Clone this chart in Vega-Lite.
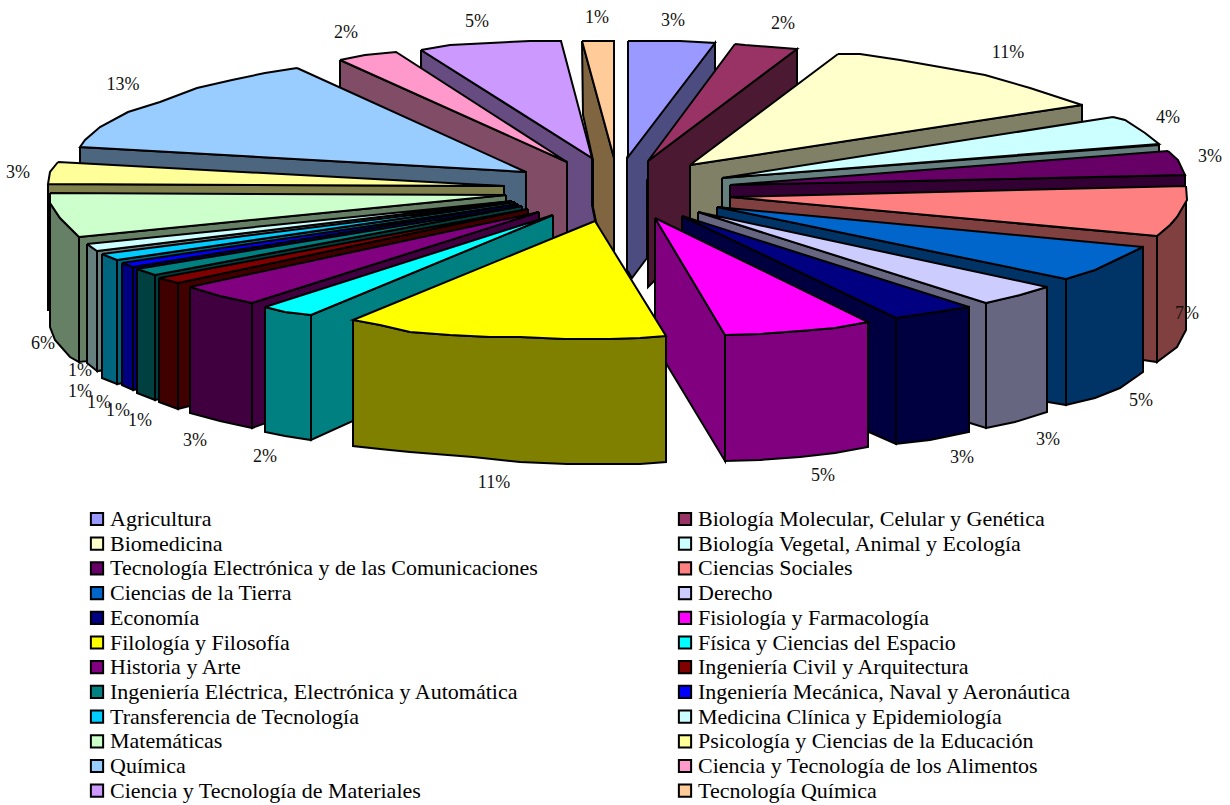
{"$schema":"https://vega.github.io/schema/vega-lite/v6.json","width":1230,"height":805,"padding":0,"autosize":{"type":"none"},"background":"white","config":{"view":{"stroke":null},"font":"Liberation Serif"},
"datasets":{"sides":[
{"sector":"Tecnología Química","face":1,"seq":1,"x":582,"y":41},{"sector":"Tecnología Química","face":1,"seq":2,"x":614,"y":158},{"sector":"Tecnología Química","face":1,"seq":3,"x":614,"y":265},{"sector":"Tecnología Química","face":1,"seq":4,"x":596,"y":222},{"sector":"Tecnología Química","face":1,"seq":5,"x":593,"y":207},{"sector":"Tecnología Química","face":1,"seq":6,"x":593,"y":160},{"sector":"Tecnología Química","face":1,"seq":7,"x":583,"y":115},{"sector":"Tecnología Química","face":1,"seq":8,"x":582,"y":41},
{"sector":"Agricultura","face":1,"seq":1,"x":627,"y":157},{"sector":"Agricultura","face":1,"seq":2,"x":715,"y":43},{"sector":"Agricultura","face":1,"seq":3,"x":715,"y":100},{"sector":"Agricultura","face":1,"seq":4,"x":647,"y":180},{"sector":"Agricultura","face":1,"seq":5,"x":647,"y":258},{"sector":"Agricultura","face":1,"seq":6,"x":632,"y":278},{"sector":"Agricultura","face":1,"seq":7,"x":627,"y":270},{"sector":"Agricultura","face":1,"seq":8,"x":627,"y":157},
{"sector":"Ciencia y Tecnología de Materiales","face":1,"seq":1,"x":421,"y":50},{"sector":"Ciencia y Tecnología de Materiales","face":1,"seq":2,"x":592,"y":158},{"sector":"Ciencia y Tecnología de Materiales","face":1,"seq":3,"x":592,"y":205},{"sector":"Ciencia y Tecnología de Materiales","face":1,"seq":4,"x":596,"y":225},{"sector":"Ciencia y Tecnología de Materiales","face":1,"seq":5,"x":560,"y":260},{"sector":"Ciencia y Tecnología de Materiales","face":1,"seq":6,"x":421,"y":170},{"sector":"Ciencia y Tecnología de Materiales","face":1,"seq":7,"x":421,"y":50},
{"sector":"Biología Molecular, Celular y Genética","face":1,"seq":1,"x":648,"y":161},{"sector":"Biología Molecular, Celular y Genética","face":1,"seq":2,"x":797,"y":49},{"sector":"Biología Molecular, Celular y Genética","face":1,"seq":3,"x":797,"y":120},{"sector":"Biología Molecular, Celular y Genética","face":1,"seq":4,"x":660,"y":275},{"sector":"Biología Molecular, Celular y Genética","face":1,"seq":5,"x":648,"y":287},{"sector":"Biología Molecular, Celular y Genética","face":1,"seq":6,"x":648,"y":161},
{"sector":"Ciencia y Tecnología de los Alimentos","face":1,"seq":1,"x":340,"y":60},{"sector":"Ciencia y Tecnología de los Alimentos","face":1,"seq":2,"x":567,"y":162},{"sector":"Ciencia y Tecnología de los Alimentos","face":1,"seq":3,"x":567,"y":270},{"sector":"Ciencia y Tecnología de los Alimentos","face":1,"seq":4,"x":340,"y":170},{"sector":"Ciencia y Tecnología de los Alimentos","face":1,"seq":5,"x":340,"y":60},
{"sector":"Biomedicina","face":1,"seq":1,"x":690,"y":165},{"sector":"Biomedicina","face":1,"seq":2,"x":1082,"y":105},{"sector":"Biomedicina","face":1,"seq":3,"x":1082,"y":200},{"sector":"Biomedicina","face":1,"seq":4,"x":690,"y":300},{"sector":"Biomedicina","face":1,"seq":5,"x":690,"y":165},
{"sector":"Química","face":1,"seq":1,"x":80,"y":147},{"sector":"Química","face":1,"seq":2,"x":526,"y":172},{"sector":"Química","face":1,"seq":3,"x":526,"y":290},{"sector":"Química","face":1,"seq":4,"x":80,"y":265},{"sector":"Química","face":1,"seq":5,"x":80,"y":147},
{"sector":"Biología Vegetal, Animal y Ecología","face":1,"seq":1,"x":722,"y":178},{"sector":"Biología Vegetal, Animal y Ecología","face":1,"seq":2,"x":1159,"y":145},{"sector":"Biología Vegetal, Animal y Ecología","face":1,"seq":3,"x":1159,"y":200},{"sector":"Biología Vegetal, Animal y Ecología","face":1,"seq":4,"x":722,"y":240},{"sector":"Biología Vegetal, Animal y Ecología","face":1,"seq":5,"x":722,"y":178},
{"sector":"Psicología y Ciencias de la Educación","face":1,"seq":1,"x":48,"y":184},{"sector":"Psicología y Ciencias de la Educación","face":1,"seq":2,"x":504,"y":186},{"sector":"Psicología y Ciencias de la Educación","face":1,"seq":3,"x":504,"y":300},{"sector":"Psicología y Ciencias de la Educación","face":1,"seq":4,"x":48,"y":310},{"sector":"Psicología y Ciencias de la Educación","face":1,"seq":5,"x":48,"y":184},
{"sector":"Tecnología Electrónica y de las Comunicaciones","face":1,"seq":1,"x":730,"y":185},{"sector":"Tecnología Electrónica y de las Comunicaciones","face":1,"seq":2,"x":1185,"y":175},{"sector":"Tecnología Electrónica y de las Comunicaciones","face":1,"seq":3,"x":1185,"y":220},{"sector":"Tecnología Electrónica y de las Comunicaciones","face":1,"seq":4,"x":730,"y":230},{"sector":"Tecnología Electrónica y de las Comunicaciones","face":1,"seq":5,"x":730,"y":185},
{"sector":"Matemáticas","face":1,"seq":1,"x":506,"y":195},{"sector":"Matemáticas","face":1,"seq":2,"x":79,"y":237},{"sector":"Matemáticas","face":1,"seq":3,"x":79,"y":362},{"sector":"Matemáticas","face":1,"seq":4,"x":506,"y":320},{"sector":"Matemáticas","face":1,"seq":5,"x":506,"y":195},
{"sector":"Matemáticas","face":2,"seq":1,"x":50,"y":203},{"sector":"Matemáticas","face":2,"seq":2,"x":60,"y":218},{"sector":"Matemáticas","face":2,"seq":3,"x":70,"y":228},{"sector":"Matemáticas","face":2,"seq":4,"x":79,"y":237},{"sector":"Matemáticas","face":2,"seq":5,"x":79,"y":362},{"sector":"Matemáticas","face":2,"seq":6,"x":70,"y":357},{"sector":"Matemáticas","face":2,"seq":7,"x":55,"y":340},{"sector":"Matemáticas","face":2,"seq":8,"x":50,"y":327},{"sector":"Matemáticas","face":2,"seq":9,"x":50,"y":203},
{"sector":"Ciencias Sociales","face":1,"seq":1,"x":730,"y":197},{"sector":"Ciencias Sociales","face":1,"seq":2,"x":1157,"y":236},{"sector":"Ciencias Sociales","face":1,"seq":3,"x":1157,"y":362},{"sector":"Ciencias Sociales","face":1,"seq":4,"x":1143,"y":360},{"sector":"Ciencias Sociales","face":1,"seq":5,"x":730,"y":320},{"sector":"Ciencias Sociales","face":1,"seq":6,"x":730,"y":197},
{"sector":"Ciencias Sociales","face":2,"seq":1,"x":1157,"y":236},{"sector":"Ciencias Sociales","face":2,"seq":2,"x":1170,"y":225},{"sector":"Ciencias Sociales","face":2,"seq":3,"x":1177,"y":217},{"sector":"Ciencias Sociales","face":2,"seq":4,"x":1186,"y":200},{"sector":"Ciencias Sociales","face":2,"seq":5,"x":1186,"y":330},{"sector":"Ciencias Sociales","face":2,"seq":6,"x":1177,"y":347},{"sector":"Ciencias Sociales","face":2,"seq":7,"x":1157,"y":362},{"sector":"Ciencias Sociales","face":2,"seq":8,"x":1157,"y":236},
{"sector":"Medicina Clínica y Epidemiología","face":1,"seq":1,"x":512,"y":201},{"sector":"Medicina Clínica y Epidemiología","face":1,"seq":2,"x":97,"y":251},{"sector":"Medicina Clínica y Epidemiología","face":1,"seq":3,"x":97,"y":371},{"sector":"Medicina Clínica y Epidemiología","face":1,"seq":4,"x":512,"y":320},{"sector":"Medicina Clínica y Epidemiología","face":1,"seq":5,"x":512,"y":201},
{"sector":"Medicina Clínica y Epidemiología","face":2,"seq":1,"x":87,"y":244},{"sector":"Medicina Clínica y Epidemiología","face":2,"seq":2,"x":97,"y":251},{"sector":"Medicina Clínica y Epidemiología","face":2,"seq":3,"x":97,"y":371},{"sector":"Medicina Clínica y Epidemiología","face":2,"seq":4,"x":87,"y":363},{"sector":"Medicina Clínica y Epidemiología","face":2,"seq":5,"x":87,"y":244},
{"sector":"Ciencias de la Tierra","face":1,"seq":1,"x":717,"y":207},{"sector":"Ciencias de la Tierra","face":1,"seq":2,"x":1066,"y":279},{"sector":"Ciencias de la Tierra","face":1,"seq":3,"x":1066,"y":405},{"sector":"Ciencias de la Tierra","face":1,"seq":4,"x":1048,"y":402},{"sector":"Ciencias de la Tierra","face":1,"seq":5,"x":717,"y":320},{"sector":"Ciencias de la Tierra","face":1,"seq":6,"x":717,"y":207},
{"sector":"Ciencias de la Tierra","face":2,"seq":1,"x":1066,"y":279},{"sector":"Ciencias de la Tierra","face":2,"seq":2,"x":1095,"y":270},{"sector":"Ciencias de la Tierra","face":2,"seq":3,"x":1120,"y":258},{"sector":"Ciencias de la Tierra","face":2,"seq":4,"x":1143,"y":247},{"sector":"Ciencias de la Tierra","face":2,"seq":5,"x":1143,"y":372},{"sector":"Ciencias de la Tierra","face":2,"seq":6,"x":1120,"y":388},{"sector":"Ciencias de la Tierra","face":2,"seq":7,"x":1095,"y":398},{"sector":"Ciencias de la Tierra","face":2,"seq":8,"x":1066,"y":405},{"sector":"Ciencias de la Tierra","face":2,"seq":9,"x":1066,"y":279},
{"sector":"Transferencia de Tecnología","face":1,"seq":1,"x":515,"y":202},{"sector":"Transferencia de Tecnología","face":1,"seq":2,"x":117,"y":260},{"sector":"Transferencia de Tecnología","face":1,"seq":3,"x":117,"y":384},{"sector":"Transferencia de Tecnología","face":1,"seq":4,"x":515,"y":320},{"sector":"Transferencia de Tecnología","face":1,"seq":5,"x":515,"y":202},
{"sector":"Transferencia de Tecnología","face":2,"seq":1,"x":102,"y":254},{"sector":"Transferencia de Tecnología","face":2,"seq":2,"x":117,"y":260},{"sector":"Transferencia de Tecnología","face":2,"seq":3,"x":117,"y":384},{"sector":"Transferencia de Tecnología","face":2,"seq":4,"x":102,"y":378},{"sector":"Transferencia de Tecnología","face":2,"seq":5,"x":102,"y":254},
{"sector":"Derecho","face":1,"seq":1,"x":698,"y":212},{"sector":"Derecho","face":1,"seq":2,"x":986,"y":303},{"sector":"Derecho","face":1,"seq":3,"x":986,"y":428},{"sector":"Derecho","face":1,"seq":4,"x":970,"y":423},{"sector":"Derecho","face":1,"seq":5,"x":698,"y":320},{"sector":"Derecho","face":1,"seq":6,"x":698,"y":212},
{"sector":"Derecho","face":2,"seq":1,"x":986,"y":303},{"sector":"Derecho","face":2,"seq":2,"x":1020,"y":295},{"sector":"Derecho","face":2,"seq":3,"x":1047,"y":287},{"sector":"Derecho","face":2,"seq":4,"x":1047,"y":412},{"sector":"Derecho","face":2,"seq":5,"x":1015,"y":422},{"sector":"Derecho","face":2,"seq":6,"x":986,"y":428},{"sector":"Derecho","face":2,"seq":7,"x":986,"y":303},
{"sector":"Ingeniería Mecánica, Naval y Aeronáutica","face":1,"seq":1,"x":518,"y":204},{"sector":"Ingeniería Mecánica, Naval y Aeronáutica","face":1,"seq":2,"x":133,"y":267},{"sector":"Ingeniería Mecánica, Naval y Aeronáutica","face":1,"seq":3,"x":133,"y":390},{"sector":"Ingeniería Mecánica, Naval y Aeronáutica","face":1,"seq":4,"x":518,"y":320},{"sector":"Ingeniería Mecánica, Naval y Aeronáutica","face":1,"seq":5,"x":518,"y":204},
{"sector":"Ingeniería Mecánica, Naval y Aeronáutica","face":2,"seq":1,"x":122,"y":263},{"sector":"Ingeniería Mecánica, Naval y Aeronáutica","face":2,"seq":2,"x":133,"y":267},{"sector":"Ingeniería Mecánica, Naval y Aeronáutica","face":2,"seq":3,"x":133,"y":390},{"sector":"Ingeniería Mecánica, Naval y Aeronáutica","face":2,"seq":4,"x":122,"y":385},{"sector":"Ingeniería Mecánica, Naval y Aeronáutica","face":2,"seq":5,"x":122,"y":263},
{"sector":"Economía","face":1,"seq":1,"x":682,"y":216},{"sector":"Economía","face":1,"seq":2,"x":896,"y":318},{"sector":"Economía","face":1,"seq":3,"x":896,"y":444},{"sector":"Economía","face":1,"seq":4,"x":869,"y":432},{"sector":"Economía","face":1,"seq":5,"x":682,"y":335},{"sector":"Economía","face":1,"seq":6,"x":682,"y":216},
{"sector":"Economía","face":2,"seq":1,"x":896,"y":318},{"sector":"Economía","face":2,"seq":2,"x":930,"y":313},{"sector":"Economía","face":2,"seq":3,"x":969,"y":307},{"sector":"Economía","face":2,"seq":4,"x":969,"y":432},{"sector":"Economía","face":2,"seq":5,"x":930,"y":440},{"sector":"Economía","face":2,"seq":6,"x":896,"y":444},{"sector":"Economía","face":2,"seq":7,"x":896,"y":318},
{"sector":"Ingeniería Eléctrica, Electrónica y Automática","face":1,"seq":1,"x":522,"y":206},{"sector":"Ingeniería Eléctrica, Electrónica y Automática","face":1,"seq":2,"x":155,"y":275},{"sector":"Ingeniería Eléctrica, Electrónica y Automática","face":1,"seq":3,"x":155,"y":400},{"sector":"Ingeniería Eléctrica, Electrónica y Automática","face":1,"seq":4,"x":522,"y":320},{"sector":"Ingeniería Eléctrica, Electrónica y Automática","face":1,"seq":5,"x":522,"y":206},
{"sector":"Ingeniería Eléctrica, Electrónica y Automática","face":2,"seq":1,"x":137,"y":269},{"sector":"Ingeniería Eléctrica, Electrónica y Automática","face":2,"seq":2,"x":155,"y":275},{"sector":"Ingeniería Eléctrica, Electrónica y Automática","face":2,"seq":3,"x":155,"y":400},{"sector":"Ingeniería Eléctrica, Electrónica y Automática","face":2,"seq":4,"x":137,"y":393},{"sector":"Ingeniería Eléctrica, Electrónica y Automática","face":2,"seq":5,"x":137,"y":269},
{"sector":"Ingeniería Civil y Arquitectura","face":1,"seq":1,"x":528,"y":209},{"sector":"Ingeniería Civil y Arquitectura","face":1,"seq":2,"x":178,"y":283},{"sector":"Ingeniería Civil y Arquitectura","face":1,"seq":3,"x":178,"y":409},{"sector":"Ingeniería Civil y Arquitectura","face":1,"seq":4,"x":528,"y":320},{"sector":"Ingeniería Civil y Arquitectura","face":1,"seq":5,"x":528,"y":209},
{"sector":"Ingeniería Civil y Arquitectura","face":2,"seq":1,"x":159,"y":278},{"sector":"Ingeniería Civil y Arquitectura","face":2,"seq":2,"x":178,"y":283},{"sector":"Ingeniería Civil y Arquitectura","face":2,"seq":3,"x":178,"y":409},{"sector":"Ingeniería Civil y Arquitectura","face":2,"seq":4,"x":159,"y":402},{"sector":"Ingeniería Civil y Arquitectura","face":2,"seq":5,"x":159,"y":278},
{"sector":"Fisiología y Farmacología","face":1,"seq":1,"x":655,"y":218},{"sector":"Fisiología y Farmacología","face":1,"seq":2,"x":725,"y":335},{"sector":"Fisiología y Farmacología","face":1,"seq":3,"x":725,"y":461},{"sector":"Fisiología y Farmacología","face":1,"seq":4,"x":655,"y":345},{"sector":"Fisiología y Farmacología","face":1,"seq":5,"x":655,"y":218},
{"sector":"Fisiología y Farmacología","face":2,"seq":1,"x":725,"y":335},{"sector":"Fisiología y Farmacología","face":2,"seq":2,"x":760,"y":334},{"sector":"Fisiología y Farmacología","face":2,"seq":3,"x":800,"y":331},{"sector":"Fisiología y Farmacología","face":2,"seq":4,"x":835,"y":328},{"sector":"Fisiología y Farmacología","face":2,"seq":5,"x":868,"y":322},{"sector":"Fisiología y Farmacología","face":2,"seq":6,"x":868,"y":447},{"sector":"Fisiología y Farmacología","face":2,"seq":7,"x":835,"y":453},{"sector":"Fisiología y Farmacología","face":2,"seq":8,"x":800,"y":457},{"sector":"Fisiología y Farmacología","face":2,"seq":9,"x":760,"y":460},{"sector":"Fisiología y Farmacología","face":2,"seq":10,"x":725,"y":461},{"sector":"Fisiología y Farmacología","face":2,"seq":11,"x":725,"y":335},
{"sector":"Historia y Arte","face":1,"seq":1,"x":539,"y":212},{"sector":"Historia y Arte","face":1,"seq":2,"x":252,"y":303},{"sector":"Historia y Arte","face":1,"seq":3,"x":252,"y":428},{"sector":"Historia y Arte","face":1,"seq":4,"x":539,"y":325},{"sector":"Historia y Arte","face":1,"seq":5,"x":539,"y":212},
{"sector":"Historia y Arte","face":2,"seq":1,"x":190,"y":287},{"sector":"Historia y Arte","face":2,"seq":2,"x":220,"y":296},{"sector":"Historia y Arte","face":2,"seq":3,"x":252,"y":303},{"sector":"Historia y Arte","face":2,"seq":4,"x":252,"y":428},{"sector":"Historia y Arte","face":2,"seq":5,"x":220,"y":421},{"sector":"Historia y Arte","face":2,"seq":6,"x":190,"y":413},{"sector":"Historia y Arte","face":2,"seq":7,"x":190,"y":287},
{"sector":"Física y Ciencias del Espacio","face":1,"seq":1,"x":553,"y":215},{"sector":"Física y Ciencias del Espacio","face":1,"seq":2,"x":311,"y":315},{"sector":"Física y Ciencias del Espacio","face":1,"seq":3,"x":311,"y":440},{"sector":"Física y Ciencias del Espacio","face":1,"seq":4,"x":553,"y":330},{"sector":"Física y Ciencias del Espacio","face":1,"seq":5,"x":553,"y":215},
{"sector":"Física y Ciencias del Espacio","face":2,"seq":1,"x":265,"y":307},{"sector":"Física y Ciencias del Espacio","face":2,"seq":2,"x":285,"y":312},{"sector":"Física y Ciencias del Espacio","face":2,"seq":3,"x":311,"y":315},{"sector":"Física y Ciencias del Espacio","face":2,"seq":4,"x":311,"y":440},{"sector":"Física y Ciencias del Espacio","face":2,"seq":5,"x":285,"y":436},{"sector":"Física y Ciencias del Espacio","face":2,"seq":6,"x":265,"y":432},{"sector":"Física y Ciencias del Espacio","face":2,"seq":7,"x":265,"y":307},
{"sector":"Filología y Filosofía","face":1,"seq":1,"x":353,"y":320},{"sector":"Filología y Filosofía","face":1,"seq":2,"x":380,"y":325},{"sector":"Filología y Filosofía","face":1,"seq":3,"x":410,"y":332},{"sector":"Filología y Filosofía","face":1,"seq":4,"x":450,"y":335},{"sector":"Filología y Filosofía","face":1,"seq":5,"x":490,"y":337},{"sector":"Filología y Filosofía","face":1,"seq":6,"x":520,"y":337},{"sector":"Filología y Filosofía","face":1,"seq":7,"x":565,"y":339},{"sector":"Filología y Filosofía","face":1,"seq":8,"x":610,"y":339},{"sector":"Filología y Filosofía","face":1,"seq":9,"x":640,"y":338},{"sector":"Filología y Filosofía","face":1,"seq":10,"x":666,"y":336},{"sector":"Filología y Filosofía","face":1,"seq":11,"x":666,"y":462},{"sector":"Filología y Filosofía","face":1,"seq":12,"x":640,"y":464},{"sector":"Filología y Filosofía","face":1,"seq":13,"x":567,"y":464},{"sector":"Filología y Filosofía","face":1,"seq":14,"x":520,"y":462},{"sector":"Filología y Filosofía","face":1,"seq":15,"x":473,"y":457},{"sector":"Filología y Filosofía","face":1,"seq":16,"x":410,"y":452},{"sector":"Filología y Filosofía","face":1,"seq":17,"x":380,"y":449},{"sector":"Filología y Filosofía","face":1,"seq":18,"x":353,"y":446},{"sector":"Filología y Filosofía","face":1,"seq":19,"x":353,"y":320}
],"tops":[
{"sector":"Tecnología Química","seq":1,"x":582,"y":41},{"sector":"Tecnología Química","seq":2,"x":614,"y":41},{"sector":"Tecnología Química","seq":3,"x":614,"y":158},{"sector":"Tecnología Química","seq":4,"x":582,"y":41},
{"sector":"Agricultura","seq":1,"x":628,"y":41},{"sector":"Agricultura","seq":2,"x":680,"y":41},{"sector":"Agricultura","seq":3,"x":715,"y":43},{"sector":"Agricultura","seq":4,"x":628,"y":157},{"sector":"Agricultura","seq":5,"x":628,"y":41},
{"sector":"Ciencia y Tecnología de Materiales","seq":1,"x":421,"y":50},{"sector":"Ciencia y Tecnología de Materiales","seq":2,"x":450,"y":45},{"sector":"Ciencia y Tecnología de Materiales","seq":3,"x":490,"y":43},{"sector":"Ciencia y Tecnología de Materiales","seq":4,"x":530,"y":41},{"sector":"Ciencia y Tecnología de Materiales","seq":5,"x":561,"y":41},{"sector":"Ciencia y Tecnología de Materiales","seq":6,"x":592,"y":158},{"sector":"Ciencia y Tecnología de Materiales","seq":7,"x":421,"y":50},
{"sector":"Biología Molecular, Celular y Genética","seq":1,"x":735,"y":44},{"sector":"Biología Molecular, Celular y Genética","seq":2,"x":745,"y":45},{"sector":"Biología Molecular, Celular y Genética","seq":3,"x":797,"y":49},{"sector":"Biología Molecular, Celular y Genética","seq":4,"x":648,"y":161},{"sector":"Biología Molecular, Celular y Genética","seq":5,"x":735,"y":44},
{"sector":"Ciencia y Tecnología de los Alimentos","seq":1,"x":340,"y":60},{"sector":"Ciencia y Tecnología de los Alimentos","seq":2,"x":365,"y":55},{"sector":"Ciencia y Tecnología de los Alimentos","seq":3,"x":396,"y":52},{"sector":"Ciencia y Tecnología de los Alimentos","seq":4,"x":567,"y":162},{"sector":"Ciencia y Tecnología de los Alimentos","seq":5,"x":340,"y":60},
{"sector":"Biomedicina","seq":1,"x":838,"y":54},{"sector":"Biomedicina","seq":2,"x":860,"y":54},{"sector":"Biomedicina","seq":3,"x":900,"y":60},{"sector":"Biomedicina","seq":4,"x":940,"y":67},{"sector":"Biomedicina","seq":5,"x":985,"y":75},{"sector":"Biomedicina","seq":6,"x":1030,"y":88},{"sector":"Biomedicina","seq":7,"x":1082,"y":105},{"sector":"Biomedicina","seq":8,"x":690,"y":165},{"sector":"Biomedicina","seq":9,"x":838,"y":54},
{"sector":"Química","seq":1,"x":297,"y":68},{"sector":"Química","seq":2,"x":526,"y":172},{"sector":"Química","seq":3,"x":80,"y":147},{"sector":"Química","seq":4,"x":85,"y":140},{"sector":"Química","seq":5,"x":100,"y":127},{"sector":"Química","seq":6,"x":128,"y":112},{"sector":"Química","seq":7,"x":160,"y":102},{"sector":"Química","seq":8,"x":197,"y":88},{"sector":"Química","seq":9,"x":232,"y":80},{"sector":"Química","seq":10,"x":265,"y":73},{"sector":"Química","seq":11,"x":297,"y":68},
{"sector":"Biología Vegetal, Animal y Ecología","seq":1,"x":1113,"y":117},{"sector":"Biología Vegetal, Animal y Ecología","seq":2,"x":1125,"y":120},{"sector":"Biología Vegetal, Animal y Ecología","seq":3,"x":1145,"y":133},{"sector":"Biología Vegetal, Animal y Ecología","seq":4,"x":1159,"y":144},{"sector":"Biología Vegetal, Animal y Ecología","seq":5,"x":722,"y":178},{"sector":"Biología Vegetal, Animal y Ecología","seq":6,"x":1113,"y":117},
{"sector":"Psicología y Ciencias de la Educación","seq":1,"x":58,"y":162},{"sector":"Psicología y Ciencias de la Educación","seq":2,"x":504,"y":186},{"sector":"Psicología y Ciencias de la Educación","seq":3,"x":48,"y":184},{"sector":"Psicología y Ciencias de la Educación","seq":4,"x":50,"y":172},{"sector":"Psicología y Ciencias de la Educación","seq":5,"x":58,"y":162},
{"sector":"Tecnología Electrónica y de las Comunicaciones","seq":1,"x":1168,"y":151},{"sector":"Tecnología Electrónica y de las Comunicaciones","seq":2,"x":1178,"y":160},{"sector":"Tecnología Electrónica y de las Comunicaciones","seq":3,"x":1185,"y":175},{"sector":"Tecnología Electrónica y de las Comunicaciones","seq":4,"x":730,"y":185},{"sector":"Tecnología Electrónica y de las Comunicaciones","seq":5,"x":1168,"y":151},
{"sector":"Matemáticas","seq":1,"x":50,"y":193},{"sector":"Matemáticas","seq":2,"x":506,"y":195},{"sector":"Matemáticas","seq":3,"x":79,"y":237},{"sector":"Matemáticas","seq":4,"x":70,"y":228},{"sector":"Matemáticas","seq":5,"x":60,"y":218},{"sector":"Matemáticas","seq":6,"x":50,"y":203},{"sector":"Matemáticas","seq":7,"x":50,"y":193},
{"sector":"Ciencias Sociales","seq":1,"x":1186,"y":186},{"sector":"Ciencias Sociales","seq":2,"x":1187,"y":200},{"sector":"Ciencias Sociales","seq":3,"x":1177,"y":217},{"sector":"Ciencias Sociales","seq":4,"x":1170,"y":225},{"sector":"Ciencias Sociales","seq":5,"x":1157,"y":236},{"sector":"Ciencias Sociales","seq":6,"x":730,"y":197},{"sector":"Ciencias Sociales","seq":7,"x":1186,"y":186},
{"sector":"Medicina Clínica y Epidemiología","seq":1,"x":87,"y":244},{"sector":"Medicina Clínica y Epidemiología","seq":2,"x":512,"y":201},{"sector":"Medicina Clínica y Epidemiología","seq":3,"x":97,"y":251},{"sector":"Medicina Clínica y Epidemiología","seq":4,"x":87,"y":244},
{"sector":"Ciencias de la Tierra","seq":1,"x":1143,"y":247},{"sector":"Ciencias de la Tierra","seq":2,"x":1120,"y":258},{"sector":"Ciencias de la Tierra","seq":3,"x":1095,"y":270},{"sector":"Ciencias de la Tierra","seq":4,"x":1066,"y":279},{"sector":"Ciencias de la Tierra","seq":5,"x":717,"y":207},{"sector":"Ciencias de la Tierra","seq":6,"x":1143,"y":247},
{"sector":"Transferencia de Tecnología","seq":1,"x":102,"y":254},{"sector":"Transferencia de Tecnología","seq":2,"x":515,"y":202},{"sector":"Transferencia de Tecnología","seq":3,"x":117,"y":260},{"sector":"Transferencia de Tecnología","seq":4,"x":102,"y":254},
{"sector":"Derecho","seq":1,"x":1047,"y":287},{"sector":"Derecho","seq":2,"x":1020,"y":295},{"sector":"Derecho","seq":3,"x":986,"y":303},{"sector":"Derecho","seq":4,"x":698,"y":212},{"sector":"Derecho","seq":5,"x":1047,"y":287},
{"sector":"Ingeniería Mecánica, Naval y Aeronáutica","seq":1,"x":122,"y":263},{"sector":"Ingeniería Mecánica, Naval y Aeronáutica","seq":2,"x":518,"y":204},{"sector":"Ingeniería Mecánica, Naval y Aeronáutica","seq":3,"x":133,"y":267},{"sector":"Ingeniería Mecánica, Naval y Aeronáutica","seq":4,"x":122,"y":263},
{"sector":"Economía","seq":1,"x":969,"y":307},{"sector":"Economía","seq":2,"x":930,"y":313},{"sector":"Economía","seq":3,"x":896,"y":318},{"sector":"Economía","seq":4,"x":682,"y":216},{"sector":"Economía","seq":5,"x":969,"y":307},
{"sector":"Ingeniería Eléctrica, Electrónica y Automática","seq":1,"x":137,"y":269},{"sector":"Ingeniería Eléctrica, Electrónica y Automática","seq":2,"x":522,"y":206},{"sector":"Ingeniería Eléctrica, Electrónica y Automática","seq":3,"x":155,"y":275},{"sector":"Ingeniería Eléctrica, Electrónica y Automática","seq":4,"x":137,"y":269},
{"sector":"Ingeniería Civil y Arquitectura","seq":1,"x":159,"y":278},{"sector":"Ingeniería Civil y Arquitectura","seq":2,"x":528,"y":209},{"sector":"Ingeniería Civil y Arquitectura","seq":3,"x":178,"y":283},{"sector":"Ingeniería Civil y Arquitectura","seq":4,"x":159,"y":278},
{"sector":"Fisiología y Farmacología","seq":1,"x":655,"y":218},{"sector":"Fisiología y Farmacología","seq":2,"x":868,"y":322},{"sector":"Fisiología y Farmacología","seq":3,"x":835,"y":328},{"sector":"Fisiología y Farmacología","seq":4,"x":800,"y":331},{"sector":"Fisiología y Farmacología","seq":5,"x":760,"y":334},{"sector":"Fisiología y Farmacología","seq":6,"x":725,"y":335},{"sector":"Fisiología y Farmacología","seq":7,"x":655,"y":218},
{"sector":"Historia y Arte","seq":1,"x":190,"y":287},{"sector":"Historia y Arte","seq":2,"x":539,"y":212},{"sector":"Historia y Arte","seq":3,"x":252,"y":303},{"sector":"Historia y Arte","seq":4,"x":220,"y":296},{"sector":"Historia y Arte","seq":5,"x":190,"y":287},
{"sector":"Física y Ciencias del Espacio","seq":1,"x":265,"y":307},{"sector":"Física y Ciencias del Espacio","seq":2,"x":553,"y":215},{"sector":"Física y Ciencias del Espacio","seq":3,"x":311,"y":315},{"sector":"Física y Ciencias del Espacio","seq":4,"x":285,"y":312},{"sector":"Física y Ciencias del Espacio","seq":5,"x":265,"y":307},
{"sector":"Filología y Filosofía","seq":1,"x":595,"y":221},{"sector":"Filología y Filosofía","seq":2,"x":666,"y":336},{"sector":"Filología y Filosofía","seq":3,"x":640,"y":338},{"sector":"Filología y Filosofía","seq":4,"x":610,"y":339},{"sector":"Filología y Filosofía","seq":5,"x":565,"y":339},{"sector":"Filología y Filosofía","seq":6,"x":520,"y":337},{"sector":"Filología y Filosofía","seq":7,"x":490,"y":337},{"sector":"Filología y Filosofía","seq":8,"x":450,"y":335},{"sector":"Filología y Filosofía","seq":9,"x":410,"y":332},{"sector":"Filología y Filosofía","seq":10,"x":380,"y":325},{"sector":"Filología y Filosofía","seq":11,"x":353,"y":320},{"sector":"Filología y Filosofía","seq":12,"x":595,"y":221}
],"labels":[
{"sector":"Química","share":"13%","x":123,"y":85},{"sector":"Ciencia y Tecnología de los Alimentos","share":"2%","x":346,"y":33},{"sector":"Ciencia y Tecnología de Materiales","share":"5%","x":477,"y":22},{"sector":"Tecnología Química","share":"1%","x":597,"y":18},{"sector":"Agricultura","share":"3%","x":673,"y":21},{"sector":"Biología Molecular, Celular y Genética","share":"2%","x":783,"y":24},{"sector":"Biomedicina","share":"11%","x":1008,"y":53},{"sector":"Biología Vegetal, Animal y Ecología","share":"4%","x":1168,"y":118},{"sector":"Tecnología Electrónica y de las Comunicaciones","share":"3%","x":1210,"y":157},{"sector":"Ciencias Sociales","share":"7%","x":1187,"y":314},{"sector":"Ciencias de la Tierra","share":"5%","x":1141,"y":401},{"sector":"Derecho","share":"3%","x":1048,"y":440},{"sector":"Economía","share":"3%","x":962,"y":458},{"sector":"Fisiología y Farmacología","share":"5%","x":823,"y":476},{"sector":"Filología y Filosofía","share":"11%","x":494,"y":483},{"sector":"Física y Ciencias del Espacio","share":"2%","x":265,"y":457},{"sector":"Historia y Arte","share":"3%","x":195,"y":441},{"sector":"Ingeniería Civil y Arquitectura","share":"1%","x":140,"y":421},{"sector":"Ingeniería Eléctrica, Electrónica y Automática","share":"1%","x":118,"y":411},{"sector":"Ingeniería Mecánica, Naval y Aeronáutica","share":"1%","x":99,"y":403},{"sector":"Transferencia de Tecnología","share":"1%","x":80,"y":392},{"sector":"Medicina Clínica y Epidemiología","share":"1%","x":80,"y":371},{"sector":"Matemáticas","share":"6%","x":43,"y":344},{"sector":"Psicología y Ciencias de la Educación","share":"3%","x":18,"y":173}
]},
"layer":[
{"data":{"name":"sides"},"mark":{"type":"line","filled":true,"stroke":"black","strokeWidth":2,"strokeJoin":"miter"},"encoding":{
"x":{"field":"x","type":"quantitative","scale":{"domain":[0,1230],"nice":false,"zero":false},"axis":null},
"y":{"field":"y","type":"quantitative","scale":{"domain":[805,0],"nice":false,"zero":false},"axis":null},
"order":{"field":"seq"},"detail":[{"field":"sector"},{"field":"face"}],
"color":{"field":"sector","type":"nominal","legend":null,"scale":{"domain":["Agricultura","Biología Molecular, Celular y Genética","Biomedicina","Biología Vegetal, Animal y Ecología","Tecnología Electrónica y de las Comunicaciones","Ciencias Sociales","Ciencias de la Tierra","Derecho","Economía","Fisiología y Farmacología","Filología y Filosofía","Física y Ciencias del Espacio","Historia y Arte","Ingeniería Civil y Arquitectura","Ingeniería Eléctrica, Electrónica y Automática","Ingeniería Mecánica, Naval y Aeronáutica","Transferencia de Tecnología","Medicina Clínica y Epidemiología","Matemáticas","Psicología y Ciencias de la Educación","Química","Ciencia y Tecnología de los Alimentos","Ciencia y Tecnología de Materiales","Tecnología Química"],"range":["#4C4C80","#4C1933","#808066","#668080","#330033","#804040","#003366","#666680","#000040","#800080","#808000","#008080","#400040","#400000","#004040","#000080","#006680","#668080","#668066","#80804C","#4C6680","#804C66","#664C80","#806640"]}}}},
{"data":{"name":"tops"},"mark":{"type":"line","filled":true,"stroke":"black","strokeWidth":2,"strokeJoin":"miter"},"encoding":{
"x":{"field":"x","type":"quantitative","scale":{"domain":[0,1230],"nice":false,"zero":false},"axis":null},
"y":{"field":"y","type":"quantitative","scale":{"domain":[805,0],"nice":false,"zero":false},"axis":null},
"order":{"field":"seq"},"detail":{"field":"sector"},
"color":{"field":"sector","type":"nominal","scale":{"domain":["Agricultura","Biología Molecular, Celular y Genética","Biomedicina","Biología Vegetal, Animal y Ecología","Tecnología Electrónica y de las Comunicaciones","Ciencias Sociales","Ciencias de la Tierra","Derecho","Economía","Fisiología y Farmacología","Filología y Filosofía","Física y Ciencias del Espacio","Historia y Arte","Ingeniería Civil y Arquitectura","Ingeniería Eléctrica, Electrónica y Automática","Ingeniería Mecánica, Naval y Aeronáutica","Transferencia de Tecnología","Medicina Clínica y Epidemiología","Matemáticas","Psicología y Ciencias de la Educación","Química","Ciencia y Tecnología de los Alimentos","Ciencia y Tecnología de Materiales","Tecnología Química"],"range":["#9999FF","#993366","#FFFFCC","#CCFFFF","#660066","#FF8080","#0066CC","#CCCCFF","#000080","#FF00FF","#FFFF00","#00FFFF","#800080","#800000","#008080","#0000FF","#00CCFF","#CCFFFF","#CCFFCC","#FFFF99","#99CCFF","#FF99CC","#CC99FF","#FFCC99"]},
"legend":{"title":null,"orient":"none","legendX":86,"legendY":508,"direction":"horizontal","columns":2,"symbolType":"square","symbolSize":150,"symbolStrokeColor":"black","symbolStrokeWidth":2,"labelFont":"Liberation Serif","labelFontSize":22,"labelColor":"black","labelLimit":600,"rowPadding":2.7,"columnPadding":136,"labelOffset":2,"padding":0}}}},
{"data":{"name":"labels"},"mark":{"type":"text","font":"Liberation Serif","fontSize":18,"color":"#111111","align":"center","baseline":"middle"},"encoding":{"x":{"field":"x","type":"quantitative","scale":{"domain":[0,1230],"nice":false,"zero":false},"axis":null},"y":{"field":"y","type":"quantitative","scale":{"domain":[805,0],"nice":false,"zero":false},"axis":null},"text":{"field":"share","type":"nominal"}}}
],
"resolve":{"scale":{"color":"independent"}}}
